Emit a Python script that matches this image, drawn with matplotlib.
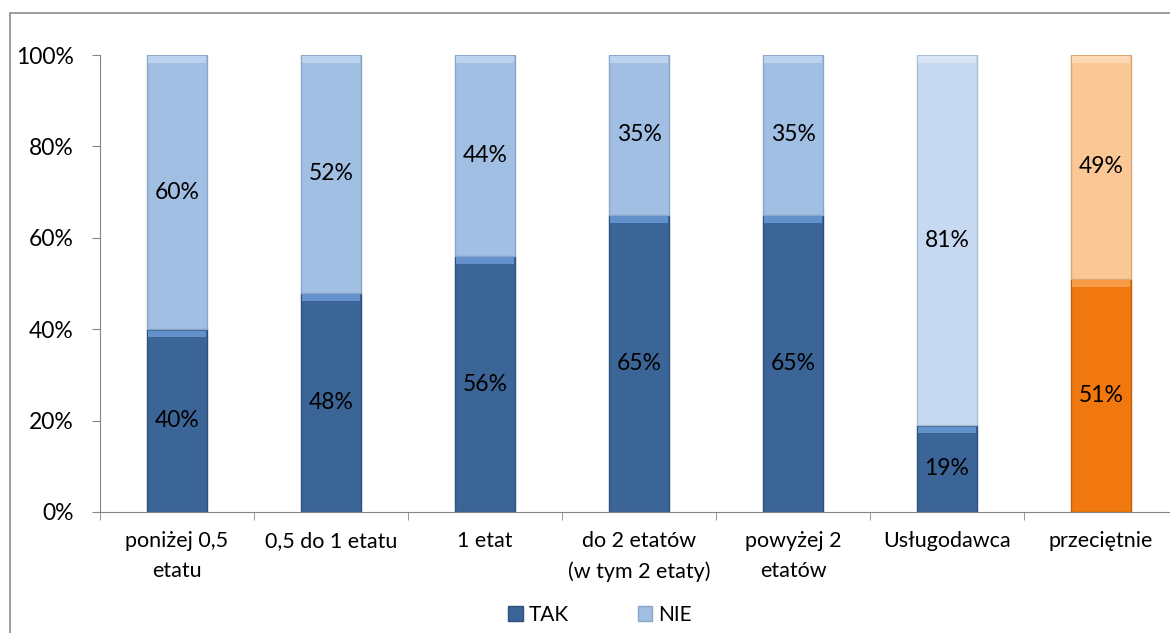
import matplotlib.pyplot as plt
from matplotlib.patches import Rectangle, Patch
import numpy as np

categories = ['poniżej 0,5\netatu', '0,5 do 1 etatu', '1 etat', 'do 2 etatów\n(w tym 2 etaty)',
              'powyżej 2\netatów', 'Usługodawca', 'przeciętnie']
tak = [40, 48, 56, 65, 65, 19, 51]
nie = [60, 52, 44, 35, 35, 81, 49]
tak_labels = ['40%', '48%', '56%', '65%', '65%', '19%', '51%']
nie_labels = ['60%', '52%', '44%', '35%', '35%', '81%', '49%']

tak_colors = ['#3c6597'] * 6 + ['#f0780f']
nie_colors = ['#a1bee3'] * 5 + ['#c6d9f1', '#fbc795']
tak_hi = ['#6391cc'] * 6 + ['#f79a45']
nie_hi = ['#bcd2ee'] * 5 + ['#d9e6f6', '#fdd8b5']
tak_edge = ['#2f507a'] * 6 + ['#c45f08']
nie_edge = ['#8aa6c8'] * 5 + ['#a9bdd6', '#d9a778']

plt.rcParams['font.family'] = ['Lato', 'DejaVu Sans']

fig = plt.figure(figsize=(11.7, 6.33), dpi=100)
ax = fig.add_axes([100 / 1170, 1 - 512 / 633, 1078 / 1170, 457 / 633])

x = np.arange(len(categories))
w = 0.39
tak = np.array(tak)
nie = np.array(nie)

ax.bar(x, tak, w, color=tak_colors, edgecolor=tak_edge, linewidth=1, zorder=2)
ax.bar(x, nie, w, bottom=tak, color=nie_colors, edgecolor=nie_edge, linewidth=1, zorder=2)
# bevel highlights at segment tops
ax.bar(x, 1.5, w * 0.95, bottom=tak - 1.8, color=tak_hi, linewidth=0, zorder=3)
ax.bar(x, 1.5, w * 0.95, bottom=tak + nie - 1.8, color=nie_hi, linewidth=0, zorder=3)

for i in range(len(x)):
    ax.text(x[i], tak[i] / 2, tak_labels[i], ha='center', va='center', fontsize=16.5, color='black', zorder=4)
    ax.text(x[i], tak[i] + nie[i] / 2, nie_labels[i], ha='center', va='center', fontsize=16.5, color='black', zorder=4)

ax.set_xlim(-0.5, len(x) - 0.5)
ax.set_ylim(0, 100)
ax.set_yticks([0, 20, 40, 60, 80, 100])
ax.set_yticklabels(['0%', '20%', '40%', '60%', '80%', '100%'], fontsize=16.5)
ax.set_xticks(x)
ax.set_xticklabels(categories, fontsize=15.5, linespacing=1.6)
ax.set_xticks(np.arange(len(x) + 1) - 0.5, minor=True)
ax.tick_params(axis='x', which='major', length=0, pad=14)
ax.tick_params(axis='x', which='minor', length=6, color='#868686', direction='out')
ax.tick_params(axis='y', length=6, color='#868686', pad=13)

for s in ['top', 'right']:
    ax.spines[s].set_visible(False)
ax.spines['left'].set_color('#868686')
ax.spines['bottom'].set_color('#868686')

handles = [Patch(facecolor='#3c6597', edgecolor='#2f507a'), Patch(facecolor='#a1bee3', edgecolor='#8aa6c8')]
fig.legend(handles, ['TAK', 'NIE'], loc='center', bbox_to_anchor=(600 / 1170, 1 - 615 / 633), ncol=2,
           frameon=False, fontsize=15, handlelength=0.7, handleheight=0.7, handletextpad=0.3,
           columnspacing=3.3)

fig.patches.append(Rectangle((10 / 1170, -0.1), 1.2, 1 - 13 / 633 + 0.1, transform=fig.transFigure,
                             fill=False, edgecolor='#8c8c8c', linewidth=1.2))

fig.savefig('out.png', dpi=100)
